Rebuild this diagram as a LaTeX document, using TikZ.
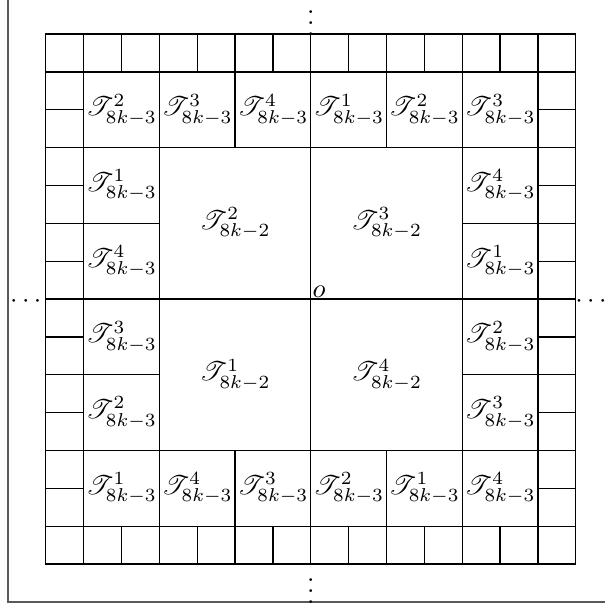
\documentclass[tikz,border=0pt]{standalone}
\usepackage{mathrsfs}

\begin{document}
\begin{tikzpicture}[
  scale=0.5,
  mesh/.style={draw=black, line width=0.5pt},
  border/.style={draw=black!65, line width=0.6pt},
  piece/.style={inner sep=0pt, font=\normalsize},
  dots/.style={inner sep=0pt}
]
  \useasboundingbox (-8.21,-8.16) rectangle (7.77,7.90);

  % Frame.
  \coordinate (fa) at (-8,7.90);
  \coordinate (fb) at (-8,-8);
  \coordinate (fc) at (7.77,-8);
  \draw[border] (fa)--(fb)--(fc);

  % Outer row of unit cells.
  \draw[mesh] (-7,-7) rectangle (7,7);
  \foreach \t in {-6,...,6}{
    \draw[mesh] (\t,6)--(\t,7);
    \draw[mesh] (\t,-7)--(\t,-6);
    \draw[mesh] (-7,\t)--(-6,\t);
    \draw[mesh] (6,\t)--(7,\t);
  }

  % Ring of 2x2 tiles and the inner square.
  \draw[mesh] (-6,-6) rectangle (6,6);
  \draw[mesh] (-4,-4) rectangle (4,4);
  \foreach \t in {-4,-2,2,4}{
    \draw[mesh] (\t,4)--(\t,6);
    \draw[mesh] (\t,-6)--(\t,-4);
    \draw[mesh] (-6,\t)--(-4,\t);
    \draw[mesh] (4,\t)--(6,\t);
  }
  \draw[mesh] (0,-7)--(0,7);
  \draw[mesh] (-7,0)--(7,0);

  % Small tiles.
  \foreach \x/\y/\s [count=\i] in {-5/5/2, -3/5/3, -1/5/4, 1/5/1, 3/5/2, 5/5/3,
      5/3/4, 5/1/1, 5/-1/2, 5/-3/3,
      -5/3/1, -5/1/4, -5/-1/3, -5/-3/2,
      -5/-5/1, -3/-5/4, -1/-5/3, 1/-5/2, 3/-5/1, 5/-5/4}
    \node[piece] (s\i) at (\x,\y) {$\mathscr{T}^{\s}_{8k-3}$};

  % Big tiles.
  \node[piece] (b1) at (-2,-2) {$\mathscr{T}^{1}_{8k-2}$};
  \node[piece] (b2) at (-2,2) {$\mathscr{T}^{2}_{8k-2}$};
  \node[piece] (b3) at (2,2) {$\mathscr{T}^{3}_{8k-2}$};
  \node[piece] (b4) at (2,-2) {$\mathscr{T}^{4}_{8k-2}$};
  \node[anchor=south west, inner sep=0.5pt] (o) at (0,0) {$o$};

  % Dots.
  \node[dots] (up) at (0,7.5) {$\vdots$};
  \node[dots] (down) at (0,-7.5) {$\vdots$};
  \node[dots, yshift=-1pt] (left) at (-7.53,0) {$\cdots$};
  \node[dots, yshift=-1pt] (right) at (7.40,0) {$\cdots$};
\end{tikzpicture}
\end{document}
